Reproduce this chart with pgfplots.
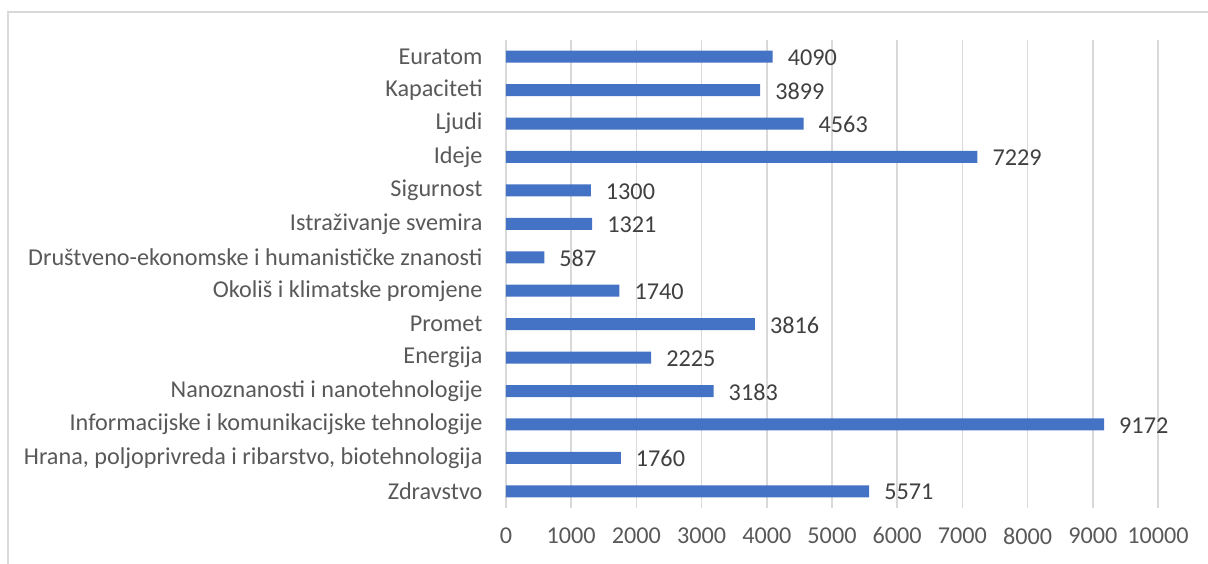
\documentclass[border=0pt]{standalone}
\usepackage{pgfplots}
\pgfplotsset{compat=1.18}
\usepackage{fontspec}
\setmainfont{Carlito}
\definecolor{barblue}{HTML}{4472C4}
\definecolor{gridgray}{HTML}{D9D9D9}
\definecolor{ticktext}{HTML}{595959}
\definecolor{labeltext}{HTML}{404040}
\begin{document}
\begin{tikzpicture}[x=1pt,y=1pt]
\useasboundingbox (0,0) rectangle (1208,563);
\draw[gridgray, line width=1.5pt] (8,-30) rectangle (1240,551);
\begin{axis}[
  at={(506pt,55pt)}, anchor=south west,
  scale only axis, width=652pt, height=468pt,
  xbar, bar width=12pt,
  xmin=0, xmax=10000, ymin=-0.5, ymax=13.5,
  xtick={0,1000,...,10000},
  ytick={0,...,13},
  yticklabels={{Zdravstvo},{Hrana, poljoprivreda i ribarstvo, biotehnologija},{Informacijske i komunikacijske tehnologije},{Nanoznanosti i nanotehnologije},{Energija},{Promet},{Okoliš i klimatske promjene},{Društveno-ekonomske i humanističke znanosti},{Istraživanje svemira},{Sigurnost},{Ideje},{Ljudi},{Kapaciteti},{Euratom}},
  /pgf/number format/assume math mode=true,
  /pgf/number format/fixed,
  /pgf/number format/1000 sep={},
  scaled x ticks=false,
  xmajorgrids, major grid style={gridgray, line width=1.5pt},
  axis line style={draw=none},
  major tick length=0pt,
  tick label style={font=\fontsize{24.2}{28}\selectfont, text=ticktext},
  xticklabel style={yshift=-16pt},
  yticklabel style={xshift=-20pt},
  nodes near coords,
  nodes near coords style={font=\fontsize{24.2}{28}\selectfont, text=labeltext, anchor=west, inner sep=0pt, xshift=15pt, yshift=-1pt},
  clip=false,
]
\addplot[fill=barblue, draw=none] coordinates {
(5571,0) (1760,1) (9172,2) (3183,3) (2225,4) (3816,5) (1740,6) (587,7) (1321,8) (1300,9) (7229,10) (4563,11) (3899,12) (4090,13)
};
\end{axis}
\end{tikzpicture}
\end{document}
